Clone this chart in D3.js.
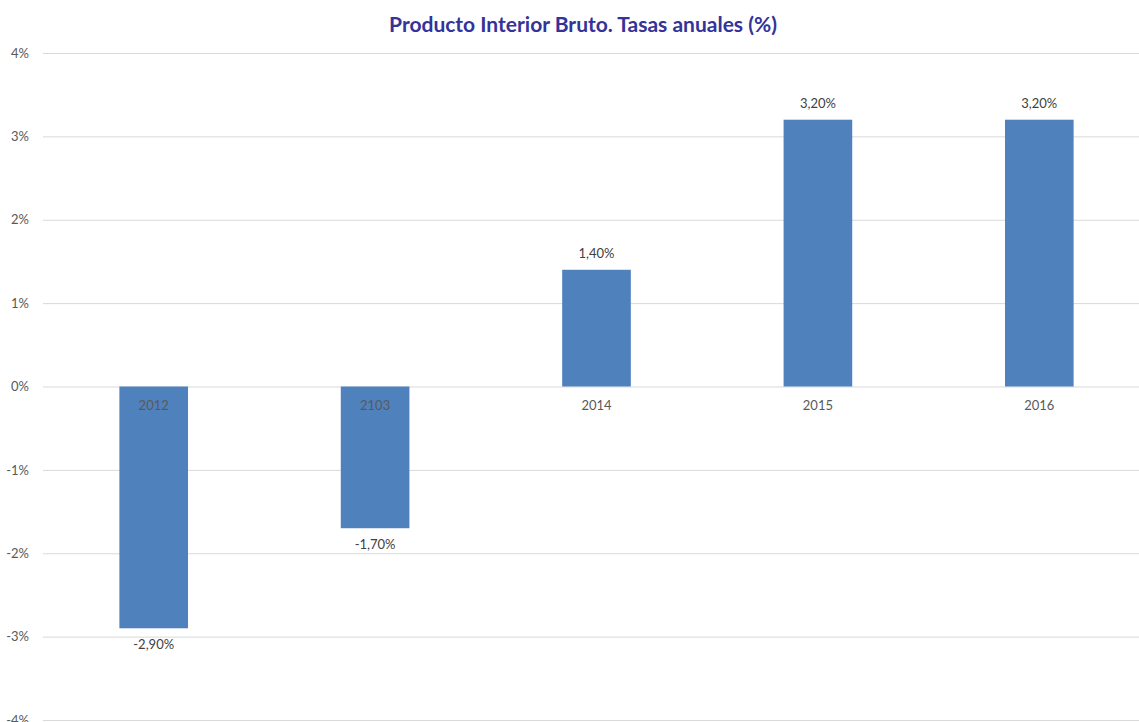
<!DOCTYPE html>
<html><head><meta charset="utf-8">
<script src="https://cdn.jsdelivr.net/npm/d3@7"></script>
<style>body{margin:0;background:#fff;} svg{display:block;}</style>
</head><body>
<script>
const categories = ["2012", "2103", "2014", "2015", "2016"];
const values = [-2.9, -1.7, 1.4, 3.2, 3.2];
const valueLabels = ["-2,90%", "-1,70%", "1,40%", "3,20%", "3,20%"];
const yTicks = [-4, -3, -2, -1, 0, 1, 2, 3, 4];
const title = "Producto Interior Bruto. Tasas anuales (%)";

const W = 1139, H = 722;
const font = "Lato, 'Open Sans', sans-serif";
const svg = d3.select("body").append("svg").attr("width", W).attr("height", H);

const y = d3.scaleLinear().domain([-4, 4]).range([720, 53]);
const x = d3.scaleBand().domain(categories).range([43, 1150]).paddingInner(0.69).paddingOuter(0.345);

svg.append("text").attr("x", 583).attr("y", 32).attr("text-anchor", "middle")
  .attr("font-family", font).attr("font-weight", "bold").attr("font-size", 21)
  .attr("fill", "#333399").text(title);

const yAxis = d3.axisLeft(y).tickValues(yTicks).tickSize(-(W - 43)).tickPadding(14)
  .tickFormat(d => d + "%");
const ga = svg.append("g").attr("transform", "translate(43,0)").call(yAxis);
ga.select(".domain").remove();
ga.selectAll(".tick line").attr("stroke", "#d9d9d9");
ga.selectAll(".tick text").attr("fill", "#595959").attr("font-family", font).attr("font-size", 13);

svg.append("g").selectAll("rect").data(values).join("rect")
  .attr("x", (d, i) => x(categories[i]))
  .attr("width", x.bandwidth())
  .attr("y", d => y(Math.max(0, d)))
  .attr("height", d => Math.abs(y(d) - y(0)))
  .attr("fill", "#4f81bd");

const xAxis = d3.axisBottom(x).tickSize(0).tickPadding(14);
const gx = svg.append("g").attr("transform", `translate(0,${y(0)})`).call(xAxis);
gx.select(".domain").remove();
gx.selectAll(".tick text").attr("fill", "#595959").attr("font-family", font).attr("font-size", 13);

svg.append("g").selectAll("text").data(values).join("text")
  .attr("x", (d, i) => x(categories[i]) + x.bandwidth() / 2)
  .attr("y", d => d >= 0 ? y(d) - 12 : y(d) + 21)
  .attr("text-anchor", "middle")
  .attr("font-family", font).attr("font-size", 13).attr("fill", "#404040")
  .text((d, i) => valueLabels[i]);
</script>
</body></html>
